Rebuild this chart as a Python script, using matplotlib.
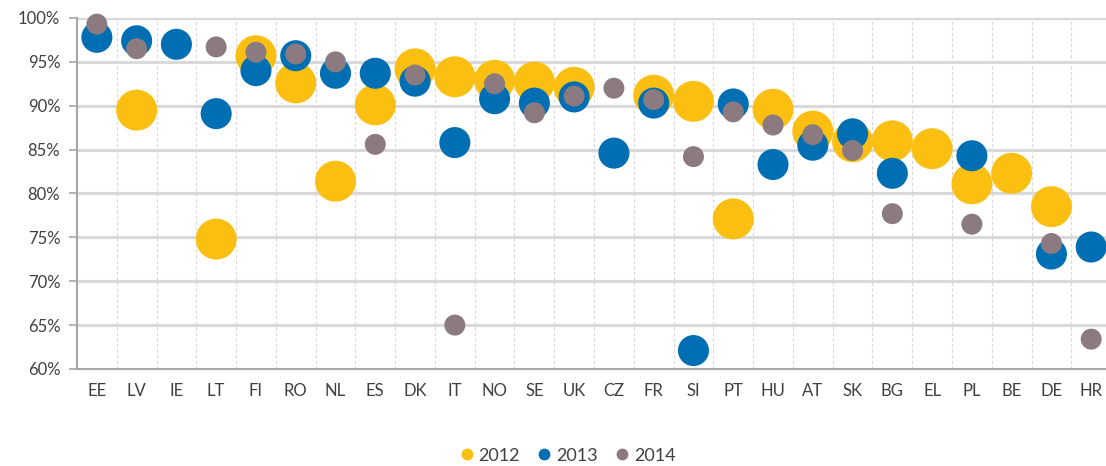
import numpy as np
import matplotlib.pyplot as plt
from matplotlib.lines import Line2D

plt.rcParams['font.family'] = ['Lato', 'DejaVu Sans']

countries = ["EE", "LV", "IE", "LT", "FI", "RO", "NL", "ES", "DK", "IT", "NO", "SE", "UK",
             "CZ", "FR", "SI", "PT", "HU", "AT", "SK", "BG", "EL", "PL", "BE", "DE", "HR"]
nan = np.nan
v2012 = [nan, 89.5, nan, 74.8, 95.7, 92.6, 81.4, 90.1, 94.2, 93.3, 92.9, 92.7, 92.1,
         nan, 91.2, 90.5, 77.1, 89.6, 87.1, 85.9, 86.0, 85.1, 81.1, 82.3, 78.5, nan]
v2013 = [97.8, 97.4, 97.0, 89.1, 94.0, 95.7, 93.7, 93.7, 92.8, 85.8, 90.8, 90.3, 91.0,
         84.6, 90.3, 62.1, 90.2, 83.3, 85.5, 86.8, 82.3, nan, 84.3, nan, 73.1, 73.9]
v2014 = [99.3, 96.5, nan, 96.7, 96.1, 95.9, 95.0, 85.6, 93.5, 65.0, 92.5, 89.2, 91.1,
         92.0, 90.7, 84.2, 89.3, 87.8, 86.7, 84.9, 77.7, nan, 76.5, nan, 74.3, 63.4]

years = ["2012", "2013", "2014"]
colors = ["#FBBF12", "#006EB2", "#8B7B80"]
sizes = [870, 500, 228]

fig = plt.figure(figsize=(11.06, 4.66), dpi=100)
ax = fig.add_axes([0.0696, 0.2082, 0.935, 0.7532])

x = np.arange(len(countries))
for vals, c, s in zip([v2012, v2013, v2014], colors, sizes):
    ax.scatter(x, vals, s=s, color=c, edgecolors="none", zorder=3, clip_on=False)

ax.set_xlim(-0.5, len(countries) - 0.5)
ax.set_ylim(60, 100)
ax.set_yticks(np.arange(60, 101, 5))
ax.set_yticklabels([f"{v}%" for v in range(60, 101, 5)])
ax.set_xticks(x)
ax.set_xticklabels(countries)

# grid: solid horizontal lines, dashed separators between countries
for v in range(65, 101, 5):
    ax.axhline(v, color="#D9D9D9", lw=2.2, zorder=1)
for b in x[:-1] + 0.5:
    ax.axvline(b, color="#D9D9D9", lw=0.8, ls=(0, (3, 2)), zorder=1)

for side in ["top", "right"]:
    ax.spines[side].set_visible(False)
ax.spines["left"].set_color("#A6A6A6")
ax.spines["left"].set_linewidth(1.5)
ax.spines["bottom"].set_color("#A6A6A6")
ax.spines["bottom"].set_linewidth(1.5)
ax.tick_params(axis="y", length=6, width=1.2, color="#A6A6A6", labelsize=12,
               labelcolor="#404040", pad=6)
ax.tick_params(axis="x", length=0, labelsize=12, labelcolor="#404040", pad=10)

handles = [Line2D([], [], marker="o", ls="", color=c, markersize=7.5) for c in colors]
fig.legend(handles, years, loc="center", bbox_to_anchor=(0.513, 0.022), ncol=3,
           frameon=False, fontsize=13, handlelength=0.8, handletextpad=0.25,
           columnspacing=0.95, labelcolor="#404040")

fig.savefig("out.png", dpi=100)
